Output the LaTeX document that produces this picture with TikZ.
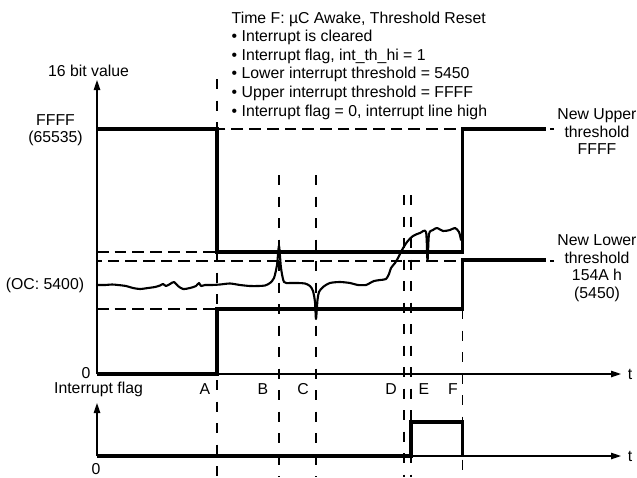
\documentclass[tikz,border=0pt]{standalone}
\usepackage{fontspec}
\setmainfont{Liberation Sans}
\usetikzlibrary{arrows.meta}
\begin{document}
\begin{tikzpicture}[x=1pt,y=-1pt,
  axis/.style={line width=1.2pt,-{Triangle[length=10pt,width=6.5pt]}},
  level/.style={line width=3.5pt,line join=miter},
  hguide/.style={line width=1.1pt,dash pattern=on 11.7pt off 6pt},
  vguide/.style={line width=1.1pt,dash pattern=on 10pt off 11.5pt},
  signal/.style={line width=2.1pt,line join=round,line cap=round},
  lbl/.style={font=\fontsize{15.8}{17.5}\selectfont,inner sep=0pt},
]
\useasboundingbox (0,0) rectangle (637,477);

% ---- key coordinates
\coordinate (O1) at (97,374);
\coordinate (Y1) at (97,80);
\coordinate (X1) at (621,374);
\coordinate (O2) at (97,456);
\coordinate (Y2) at (97,403);
\coordinate (X2) at (621,456);

% vertical guide ends
\coordinate (At) at (217,79);  \coordinate (Ab) at (217,477);
\coordinate (Bt) at (279,175); \coordinate (Bb) at (279,477);
\coordinate (Ct) at (316,175); \coordinate (Cb) at (316,477);
\coordinate (Dt) at (404,195); \coordinate (Db) at (404,477);
\coordinate (Et) at (411,195); \coordinate (Eb) at (411,477);
\coordinate (Ft) at (462.5,309); \coordinate (Fb) at (462.5,477);

% horizontal guide ends
\coordinate (FFl) at (97,129);  \coordinate (FFr) at (554,129);
\coordinate (UPl) at (97,252);  \coordinate (UPr) at (217,252);
\coordinate (NLl) at (97,261);  \coordinate (NLr) at (554,261);
\coordinate (LOl) at (97,309);  \coordinate (LOr) at (217,309);

% ---- guides
\foreach \a/\b in {At/Ab,Bt/Bb,Ct/Cb,Dt/Db,Et/Eb,Ft/Fb}
  \draw[vguide] (\a) -- (\b);
\draw[hguide, dash phase=7.7pt] (FFr) -- (FFl);
\draw[hguide, dash phase=7.7pt] (NLr) -- (NLl);
\draw[hguide] (UPl) -- (UPr);
\draw[hguide] (LOl) -- (LOr);

% ---- axes
\draw[axis] (O1) -- (Y1);
\draw[axis] (O1) -- (X1);
\draw[axis] (O2) -- (Y2);
\draw[axis] (O2) -- (X2);

% ---- threshold levels
\draw[level] (97,129) -- (217,129) -- (217,252) -- (462.5,252) -- (462.5,129) -- (546,129);
\draw[level] (97,374) -- (217,374) -- (217,309) -- (462.5,309) -- (462.5,260) -- (546,260);

% ---- interrupt flag
\draw[level] (O2) -- (411,456) -- (411,422) -- (462.5,422) -- (462.5,456);

% ---- measured signal
\draw[signal] plot[smooth, tension=0.45] coordinates {
 (97,285) (105,285) (112,284.5) (118,285) (126,286) (133,288) (140,289)
 (148,288) (155,287) (160,285.5) (163,284) (166,286) (170,284) (174,282)
 (178,286) (183,289) (190,288) (196,286) (199,283) (201,286) (205,285)
 (212,285) (220,284.5) (230,283.5) (240,285) (250,286) (258,286)
 (265,285.5) (270,283) (274,278) (277,265) (279,246) (281,268) (284,282)
 (290,283) (298,283) (305,283.5) (310,286) (313,291) (315,302) (316,319)
 (317.5,300) (319,292) (323,287) (330,283) (340,282) (350,283) (358,285)
 (366,285) (370,283) (374,281) (380,280) (386,279) (389,274) (391,268)
 (395,263) (398,258) (402,250) (407,242) (413,236) (420,233) (426,232)
 (427.5,261) (429,234) (433,230) (437,228) (443,231) (450,230) (455,228)
 (459,232) (461,240)};

% ---- labels
\node[lbl] (ylab) at (88.5,71) {16 bit value};
\node[lbl, align=center] (ffff) at (55.5,130) {FFFF\\(65535)};
\node[lbl] (oc) at (45,285) {(OC: 5400)};
\node[lbl] (zero1) at (86,373) {0};
\node[lbl] (iflag) at (98.5,389.5) {Interrupt flag};
\node[lbl] (zero2) at (96,469.5) {0};
\node[lbl] (t1) at (630,374) {t};
\node[lbl] (t2) at (630,456) {t};
\node[lbl] (lA) at (205,389) {A};
\node[lbl] (lB) at (263,389) {B};
\node[lbl] (lC) at (303,389) {C};
\node[lbl] (lD) at (391,389) {D};
\node[lbl] (lE) at (424,389) {E};
\node[lbl] (lF) at (453,389) {F};
\node[lbl, align=center] (newup) at (597,132) {New Upper\\threshold\\FFFF};
\node[lbl, align=center] (newlo) at (597,268) {New Lower\\threshold\\154A h\\(5450)};
\node[lbl, anchor=north west, align=left, font=\fontsize{15.8}{18.6}\selectfont] (title) at (231.5,11.5)
 {Time F: µC Awake, Threshold Reset\\
  • Interrupt is cleared\\
  • Interrupt flag, int\_th\_hi = 1\\
  • Lower interrupt threshold = 5450\\
  • Upper interrupt threshold = FFFF\\
  • Interrupt flag = 0, interrupt line high};
\end{tikzpicture}
\end{document}
